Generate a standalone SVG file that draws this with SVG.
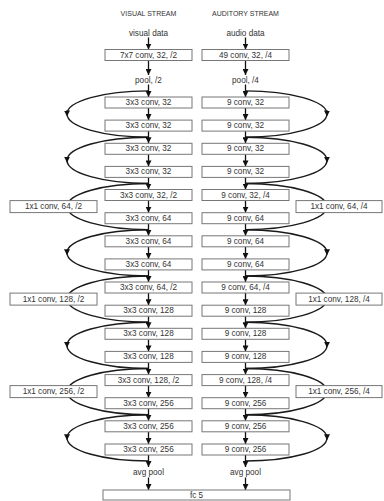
<svg xmlns="http://www.w3.org/2000/svg" width="384" height="501" viewBox="0 0 384 501">
<style>
text{font-family:"Liberation Sans",Arial,sans-serif;font-size:8.2px;fill:#333;text-anchor:middle;dominant-baseline:central}
.h{font-size:7px}
rect{fill:#fff;stroke:#777;stroke-width:1}
.a{stroke:#111;stroke-width:1.3;fill:none;marker-end:url(#ah)}
.c{stroke:#1a1a1a;stroke-width:1.4;fill:none}
.m{marker-mid:url(#am)}
</style>
<defs>
<marker id="ah" viewBox="0 0 10 10" refX="10" refY="5" markerWidth="6" markerHeight="6" markerUnits="userSpaceOnUse" orient="auto"><path d="M0,0L10,5L0,10z" fill="#111"/></marker>
<marker id="am" viewBox="0 0 10 10" refX="6" refY="5" markerWidth="6" markerHeight="6" markerUnits="userSpaceOnUse" orient="auto"><path d="M0,0L10,5L0,10z" fill="#111"/></marker>
</defs>
<g id="connectors">
<!-- left skip curves -->
<path class="c m" d="M148.5,90.9A81.5,23.13 0 0 0 67,114.1A81.5,23.13 0 0 0 148.5,137.2"/>
<path class="c m" d="M148.5,137.2A81.5,23.13 0 0 0 67,160.3A81.5,23.13 0 0 0 148.5,183.5"/>
<path class="c" d="M148.5,183.5A81.5,23.13 0 0 0 67,206.6A81.5,23.13 0 0 0 148.5,229.7"/>
<path class="c m" d="M148.5,229.7A81.5,23.13 0 0 0 67,252.8A81.5,23.13 0 0 0 148.5,276"/>
<path class="c" d="M148.5,276A81.5,23.13 0 0 0 67,299.1A81.5,23.13 0 0 0 148.5,322.2"/>
<path class="c m" d="M148.5,322.2A81.5,23.13 0 0 0 67,345.4A81.5,23.13 0 0 0 148.5,368.5"/>
<path class="c" d="M148.5,368.5A81.5,23.13 0 0 0 67,391.6A81.5,23.13 0 0 0 148.5,414.8"/>
<path class="c m" d="M148.5,414.8A81.5,23.13 0 0 0 67,437.9A81.5,23.13 0 0 0 148.5,461"/>
<!-- right skip curves -->
<path class="c m" d="M245.5,90.9A81.5,23.13 0 0 1 327,114.1A81.5,23.13 0 0 1 245.5,137.2"/>
<path class="c m" d="M245.5,137.2A81.5,23.13 0 0 1 327,160.3A81.5,23.13 0 0 1 245.5,183.5"/>
<path class="c" d="M245.5,183.5A81.5,23.13 0 0 1 327,206.6A81.5,23.13 0 0 1 245.5,229.7"/>
<path class="c m" d="M245.5,229.7A81.5,23.13 0 0 1 327,252.8A81.5,23.13 0 0 1 245.5,276"/>
<path class="c" d="M245.5,276A81.5,23.13 0 0 1 327,299.1A81.5,23.13 0 0 1 245.5,322.2"/>
<path class="c m" d="M245.5,322.2A81.5,23.13 0 0 1 327,345.4A81.5,23.13 0 0 1 245.5,368.5"/>
<path class="c" d="M245.5,368.5A81.5,23.13 0 0 1 327,391.6A81.5,23.13 0 0 1 245.5,414.8"/>
<path class="c m" d="M245.5,414.8A81.5,23.13 0 0 1 327,437.9A81.5,23.13 0 0 1 245.5,461"/>
<!-- left main arrows -->
<line class="a" x1="148.5" y1="37.5" x2="148.5" y2="49.5"/>
<line class="a" x1="148.5" y1="60.5" x2="148.5" y2="75"/>
<line class="a" x1="148.5" y1="84.5" x2="148.5" y2="97"/>
<line class="a" x1="148.5" y1="108" x2="148.5" y2="120.1"/>
<line class="a" x1="148.5" y1="131.1" x2="148.5" y2="143.3"/>
<line class="a" x1="148.5" y1="154.3" x2="148.5" y2="166.4"/>
<line class="a" x1="148.5" y1="177.4" x2="148.5" y2="189.5"/>
<line class="a" x1="148.5" y1="200.5" x2="148.5" y2="212.7"/>
<line class="a" x1="148.5" y1="223.7" x2="148.5" y2="235.8"/>
<line class="a" x1="148.5" y1="246.8" x2="148.5" y2="258.9"/>
<line class="a" x1="148.5" y1="269.9" x2="148.5" y2="282"/>
<line class="a" x1="148.5" y1="293" x2="148.5" y2="305.2"/>
<line class="a" x1="148.5" y1="316.2" x2="148.5" y2="328.3"/>
<line class="a" x1="148.5" y1="339.3" x2="148.5" y2="351.4"/>
<line class="a" x1="148.5" y1="362.4" x2="148.5" y2="374.6"/>
<line class="a" x1="148.5" y1="385.6" x2="148.5" y2="397.7"/>
<line class="a" x1="148.5" y1="408.7" x2="148.5" y2="420.8"/>
<line class="a" x1="148.5" y1="431.8" x2="148.5" y2="444"/>
<line class="a" x1="148.5" y1="455" x2="148.5" y2="467"/>
<line class="a" x1="148.5" y1="477.5" x2="148.5" y2="490"/>
<!-- right main arrows -->
<line class="a" x1="245.5" y1="37.5" x2="245.5" y2="49.5"/>
<line class="a" x1="245.5" y1="60.5" x2="245.5" y2="75"/>
<line class="a" x1="245.5" y1="84.5" x2="245.5" y2="97"/>
<line class="a" x1="245.5" y1="108" x2="245.5" y2="120.1"/>
<line class="a" x1="245.5" y1="131.1" x2="245.5" y2="143.3"/>
<line class="a" x1="245.5" y1="154.3" x2="245.5" y2="166.4"/>
<line class="a" x1="245.5" y1="177.4" x2="245.5" y2="189.5"/>
<line class="a" x1="245.5" y1="200.5" x2="245.5" y2="212.7"/>
<line class="a" x1="245.5" y1="223.7" x2="245.5" y2="235.8"/>
<line class="a" x1="245.5" y1="246.8" x2="245.5" y2="258.9"/>
<line class="a" x1="245.5" y1="269.9" x2="245.5" y2="282"/>
<line class="a" x1="245.5" y1="293" x2="245.5" y2="305.2"/>
<line class="a" x1="245.5" y1="316.2" x2="245.5" y2="328.3"/>
<line class="a" x1="245.5" y1="339.3" x2="245.5" y2="351.4"/>
<line class="a" x1="245.5" y1="362.4" x2="245.5" y2="374.6"/>
<line class="a" x1="245.5" y1="385.6" x2="245.5" y2="397.7"/>
<line class="a" x1="245.5" y1="408.7" x2="245.5" y2="420.8"/>
<line class="a" x1="245.5" y1="431.8" x2="245.5" y2="444"/>
<line class="a" x1="245.5" y1="455" x2="245.5" y2="467"/>
<line class="a" x1="245.5" y1="477.5" x2="245.5" y2="490"/>
</g>
<g id="visual-title"><text class="h" x="148.5" y="13">VISUAL STREAM</text></g>
<g id="auditory-title"><text class="h" x="245.5" y="13">AUDITORY STREAM</text></g>
<g id="visual-data"><text x="148.5" y="33">visual data</text></g>
<g id="audio-data"><text x="245.5" y="33">audio data</text></g>
<g id="v-conv1"><rect x="105" y="49.5" width="87" height="11"/><text x="148.5" y="55">7x7 conv, 32, /2</text></g>
<g id="a-conv1"><rect x="202" y="49.5" width="87" height="11"/><text x="245.5" y="55">49 conv, 32, /4</text></g>
<g id="v-pool"><text x="148.5" y="80">pool, /2</text></g>
<g id="a-pool"><text x="245.5" y="80">pool, /4</text></g>
<g id="v0"><rect x="105" y="97" width="87" height="11"/><text x="148.5" y="102.5">3x3 conv, 32</text></g>
<g id="v1"><rect x="105" y="120.1" width="87" height="11"/><text x="148.5" y="125.6">3x3 conv, 32</text></g>
<g id="v2"><rect x="105" y="143.3" width="87" height="11"/><text x="148.5" y="148.8">3x3 conv, 32</text></g>
<g id="v3"><rect x="105" y="166.4" width="87" height="11"/><text x="148.5" y="171.9">3x3 conv, 32</text></g>
<g id="v4"><rect x="105" y="189.5" width="87" height="11"/><text x="148.5" y="195">3x3 conv, 32, /2</text></g>
<g id="v5"><rect x="105" y="212.7" width="87" height="11"/><text x="148.5" y="218.2">3x3 conv, 64</text></g>
<g id="v6"><rect x="105" y="235.8" width="87" height="11"/><text x="148.5" y="241.3">3x3 conv, 64</text></g>
<g id="v7"><rect x="105" y="258.9" width="87" height="11"/><text x="148.5" y="264.4">3x3 conv, 64</text></g>
<g id="v8"><rect x="105" y="282" width="87" height="11"/><text x="148.5" y="287.5">3x3 conv, 64, /2</text></g>
<g id="v9"><rect x="105" y="305.2" width="87" height="11"/><text x="148.5" y="310.7">3x3 conv, 128</text></g>
<g id="v10"><rect x="105" y="328.3" width="87" height="11"/><text x="148.5" y="333.8">3x3 conv, 128</text></g>
<g id="v11"><rect x="105" y="351.4" width="87" height="11"/><text x="148.5" y="356.9">3x3 conv, 128</text></g>
<g id="v12"><rect x="105" y="374.6" width="87" height="11"/><text x="148.5" y="380.1">3x3 conv, 128, /2</text></g>
<g id="v13"><rect x="105" y="397.7" width="87" height="11"/><text x="148.5" y="403.2">3x3 conv, 256</text></g>
<g id="v14"><rect x="105" y="420.8" width="87" height="11"/><text x="148.5" y="426.3">3x3 conv, 256</text></g>
<g id="v15"><rect x="105" y="444" width="87" height="11"/><text x="148.5" y="449.5">3x3 conv, 256</text></g>
<g id="a0"><rect x="202" y="97" width="87" height="11"/><text x="245.5" y="102.5">9 conv, 32</text></g>
<g id="a1"><rect x="202" y="120.1" width="87" height="11"/><text x="245.5" y="125.6">9 conv, 32</text></g>
<g id="a2"><rect x="202" y="143.3" width="87" height="11"/><text x="245.5" y="148.8">9 conv, 32</text></g>
<g id="a3"><rect x="202" y="166.4" width="87" height="11"/><text x="245.5" y="171.9">9 conv, 32</text></g>
<g id="a4"><rect x="202" y="189.5" width="87" height="11"/><text x="245.5" y="195">9 conv, 32, /4</text></g>
<g id="a5"><rect x="202" y="212.7" width="87" height="11"/><text x="245.5" y="218.2">9 conv, 64</text></g>
<g id="a6"><rect x="202" y="235.8" width="87" height="11"/><text x="245.5" y="241.3">9 conv, 64</text></g>
<g id="a7"><rect x="202" y="258.9" width="87" height="11"/><text x="245.5" y="264.4">9 conv, 64</text></g>
<g id="a8"><rect x="202" y="282" width="87" height="11"/><text x="245.5" y="287.5">9 conv, 64, /4</text></g>
<g id="a9"><rect x="202" y="305.2" width="87" height="11"/><text x="245.5" y="310.7">9 conv, 128</text></g>
<g id="a10"><rect x="202" y="328.3" width="87" height="11"/><text x="245.5" y="333.8">9 conv, 128</text></g>
<g id="a11"><rect x="202" y="351.4" width="87" height="11"/><text x="245.5" y="356.9">9 conv, 128</text></g>
<g id="a12"><rect x="202" y="374.6" width="87" height="11"/><text x="245.5" y="380.1">9 conv, 128, /4</text></g>
<g id="a13"><rect x="202" y="397.7" width="87" height="11"/><text x="245.5" y="403.2">9 conv, 256</text></g>
<g id="a14"><rect x="202" y="420.8" width="87" height="11"/><text x="245.5" y="426.3">9 conv, 256</text></g>
<g id="a15"><rect x="202" y="444" width="87" height="11"/><text x="245.5" y="449.5">9 conv, 256</text></g>
<g id="v-short64"><rect x="10" y="200.6" width="87" height="12"/><text x="53.5" y="206.6">1x1 conv, 64, /2</text></g>
<g id="v-short128"><rect x="10" y="293.1" width="87" height="12"/><text x="53.5" y="299.1">1x1 conv, 128, /2</text></g>
<g id="v-short256"><rect x="10" y="385.6" width="87" height="12"/><text x="53.5" y="391.6">1x1 conv, 256, /2</text></g>
<g id="a-short64"><rect x="296" y="200.6" width="86" height="12"/><text x="339" y="206.6">1x1 conv, 64, /4</text></g>
<g id="a-short128"><rect x="296" y="293.1" width="86" height="12"/><text x="339" y="299.1">1x1 conv, 128, /4</text></g>
<g id="a-short256"><rect x="296" y="385.6" width="86" height="12"/><text x="339" y="391.6">1x1 conv, 256, /4</text></g>
<g id="v-avgpool"><text x="148.5" y="472.5">avg pool</text></g>
<g id="a-avgpool"><text x="245.5" y="472.5">avg pool</text></g>
<g id="fc5"><rect x="103" y="490" width="187" height="10"/><text x="196.5" y="495.5">fc 5</text></g>
</svg>
